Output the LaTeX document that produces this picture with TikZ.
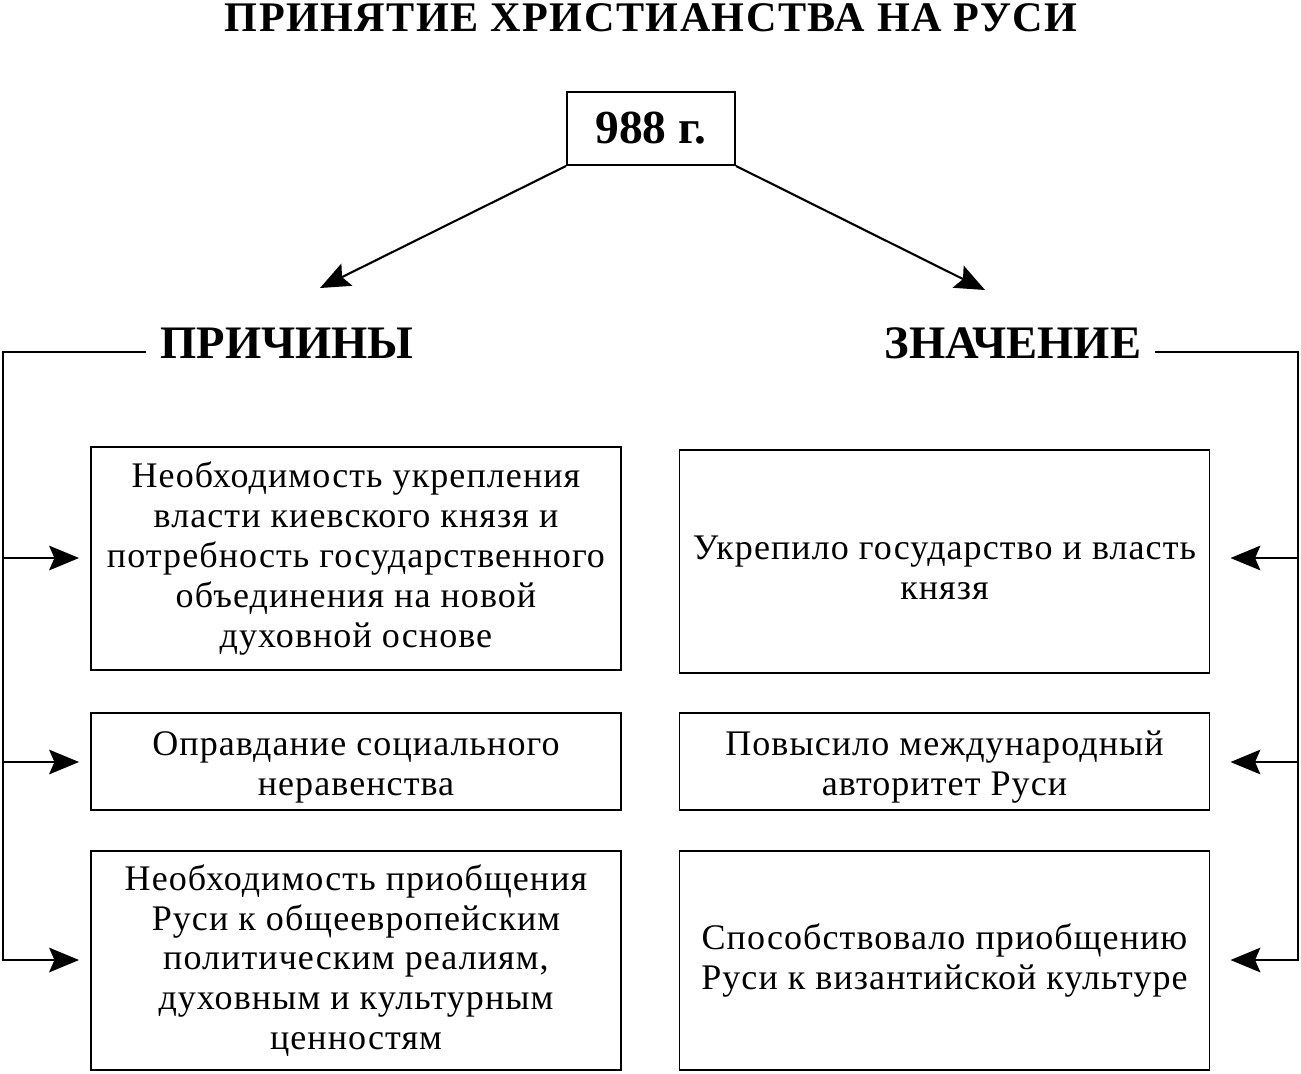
\documentclass[tikz,border=0pt]{standalone}
\usepackage{fontspec}
\setmainfont{Liberation Serif}
\usetikzlibrary{arrows.meta}

\newcommand{\lift}{\rule{0pt}{20.5pt}}

\tikzset{
  infobox/.style={draw, line width=1.1pt, minimum width=530*0.02cm, align=center,
    font=\fontsize{20.5}{22.7}\selectfont\addfontfeature{LetterSpace=3}, inner sep=0pt},
  heading/.style={font=\fontsize{26.5}{30}\selectfont\bfseries, inner sep=8pt},
  link/.style={line width=1.2pt, -{Stealth[length=17pt,width=14pt,inset=3pt]}}
}

\begin{document}
\begin{tikzpicture}[x=0.02cm, y=-0.02cm]
    \useasboundingbox (0,0) rectangle (1301,1073);
    \node[font=\fontsize{24}{28}\selectfont\bfseries\addfontfeature{LetterSpace=3.5}] (title) at (651,18) {ПРИНЯТИЕ ХРИСТИАНСТВА НА РУСИ};
    \node[draw, line width=1.1pt, minimum width=168*0.02cm, minimum height=73*0.02cm,
      font=\fontsize{27}{30}\selectfont\bfseries] (year) at (651,128.5) {988 г.};
    \node[heading] (causes) at (287,343) {ПРИЧИНЫ};
    \node[heading] (meaning) at (1013,343) {ЗНАЧЕНИЕ};
    \coordinate (causetip) at (320,288);
    \coordinate (meantip) at (985,290);
    \draw[link] (year.south west) -- (causetip);
    \draw[link] (year.south east) -- (meantip);

    % причины
    \node[infobox, minimum height=223*0.02cm] (c1) at (356,558.5) {Необходимость укрепления\\власти киевского князя и\\потребность государственного\\объединения на новой\\духовной основе};
    \node[infobox, minimum height=97*0.02cm] (c2) at (356,761.5) {\lift Оправдание социального\\неравенства};
    \node[infobox, minimum height=219*0.02cm] (c3) at (356,960.5) {Необходимость приобщения\\Руси к общеевропейским\\политическим реалиям,\\духовным и культурным\\ценностям};

    % значение
    \node[infobox, minimum height=223*0.02cm] (m1) at (944.5,561.5) {\lift Укрепило государство и власть\\князя};
    \node[infobox, minimum height=97*0.02cm] (m2) at (944.5,761.5) {\lift Повысило международный\\авторитет Руси};
    \node[infobox, minimum height=219*0.02cm] (m3) at (944.5,960.5) {Способствовало приобщению\\Руси к византийской культуре};

    \coordinate (lbus) at (3,352);
    \coordinate (rbus) at (1298,352);
    \draw[line width=1.1pt] (causes.west |- lbus) -- (lbus) -- (lbus |- c3);
    \draw[line width=1.1pt] (meaning.east |- rbus) -- (rbus) -- (rbus |- m3);
    \foreach \n/\y in {c1/558, c2/762, c3/960}
      \draw[link, shorten >=11*0.02cm] (3,\y) -- (\n.west |- 0,\y);
    \foreach \n/\y in {m1/558, m2/762, m3/960}
      \draw[link, shorten >=20*0.02cm] (1298,\y) -- (\n.east |- 0,\y);
\end{tikzpicture}
\end{document}
